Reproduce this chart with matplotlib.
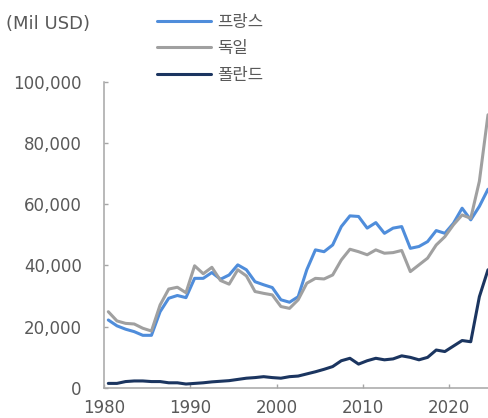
import matplotlib
matplotlib.use('Agg')
import matplotlib.pyplot as plt
from matplotlib.ticker import FuncFormatter

# 연도 (1980 ~ 2024)
anos = list(range(1980, 2025))

# 프랑스 (Mil USD)
franca = [22.2, 20.3, 19.2, 18.4, 17.2, 17.2, 24.9, 29.3, 30.2, 29.5,
          35.8, 35.8, 37.7, 35.5, 36.9, 40.2, 38.6, 34.7, 33.7, 32.8,
          28.8, 28.0, 29.8, 38.6, 45.1, 44.5, 46.7, 52.7, 56.2, 56.0,
          52.2, 54.0, 50.5, 52.2, 52.7, 45.6, 46.2, 47.8, 51.4, 50.5,
          53.8, 58.7, 54.9, 59.3, 64.9]

# 독일
alemanha = [24.9, 21.9, 21.1, 20.9, 19.5, 18.6, 27.1, 32.3, 32.9, 31.1,
            39.9, 37.3, 39.4, 35.1, 33.9, 38.6, 36.6, 31.5, 30.9, 30.4,
            26.6, 26.0, 28.8, 34.2, 35.8, 35.6, 36.9, 41.8, 45.3, 44.5,
            43.5, 45.1, 44.0, 44.2, 44.9, 38.0, 40.2, 42.4, 46.7, 49.4,
            53.3, 56.5, 55.4, 67.5, 89.2]

# 폴란드
polonia = [1.5, 1.5, 2.1, 2.3, 2.3, 2.1, 2.1, 1.7, 1.7, 1.3,
           1.5, 1.7, 2.0, 2.2, 2.4, 2.8, 3.2, 3.4, 3.7, 3.4,
           3.2, 3.7, 3.9, 4.6, 5.3, 6.1, 7.0, 8.9, 9.7, 7.8,
           8.9, 9.7, 9.2, 9.5, 10.5, 10.0, 9.2, 10.0, 12.4, 11.9,
           13.7, 15.5, 15.1, 29.8, 38.6]

series = [
    ('프랑스', franca, '#4F8DDB'),
    ('독일', alemanha, '#A0A0A0'),
    ('폴란드', polonia, '#1B3560'),
]

cor_texto = '#595959'
cor_eixo = '#A6A6A6'

plt.rcParams['font.family'] = ['DejaVu Sans', 'Noto Sans CJK KR']

fig = plt.figure(figsize=(4.88, 4.18), dpi=100)
ax = fig.add_axes([104 / 488, 30 / 418, 384 / 488, 306.3 / 418])

# pontos no meio do ano
x = [a + 0.5 for a in anos]
for nome, valores, cor in series:
    ax.plot(x, [v * 1000 for v in valores], color=cor, linewidth=2.2,
            label=nome, solid_joinstyle='round', solid_capstyle='round',
            clip_on=False)

ax.set_xlim(1980, 2024.5)
ax.set_ylim(0, 100000)
ax.set_xticks([1980, 1990, 2000, 2010, 2020])
ax.set_yticks(range(0, 100001, 20000))
ax.yaxis.set_major_formatter(FuncFormatter(lambda v, p: '{:,.0f}'.format(v)))

for lado in ['top', 'right']:
    ax.spines[lado].set_visible(False)
for lado in ['left', 'bottom']:
    ax.spines[lado].set_color(cor_eixo)
    ax.spines[lado].set_linewidth(1.1)

ax.tick_params(axis='both', direction='in', length=3, width=1,
               color=cor_eixo, labelcolor=cor_texto, labelsize=12)
ax.tick_params(axis='y', pad=16)
ax.tick_params(axis='x', pad=8)

fig.text(6 / 488, 1 - 24 / 418, '(Mil USD)', fontsize=13,
         color=cor_texto, va='center', ha='left')

fig.legend(loc='upper left', bbox_to_anchor=(157 / 488, 1 - 14 / 418),
           frameon=False, borderpad=0, borderaxespad=0,
           handlelength=3.23, handletextpad=0.36, labelspacing=0.56,
           prop={'family': 'Noto Sans CJK KR', 'size': 12},
           labelcolor=cor_texto)

fig.savefig('out.png', dpi=100)
